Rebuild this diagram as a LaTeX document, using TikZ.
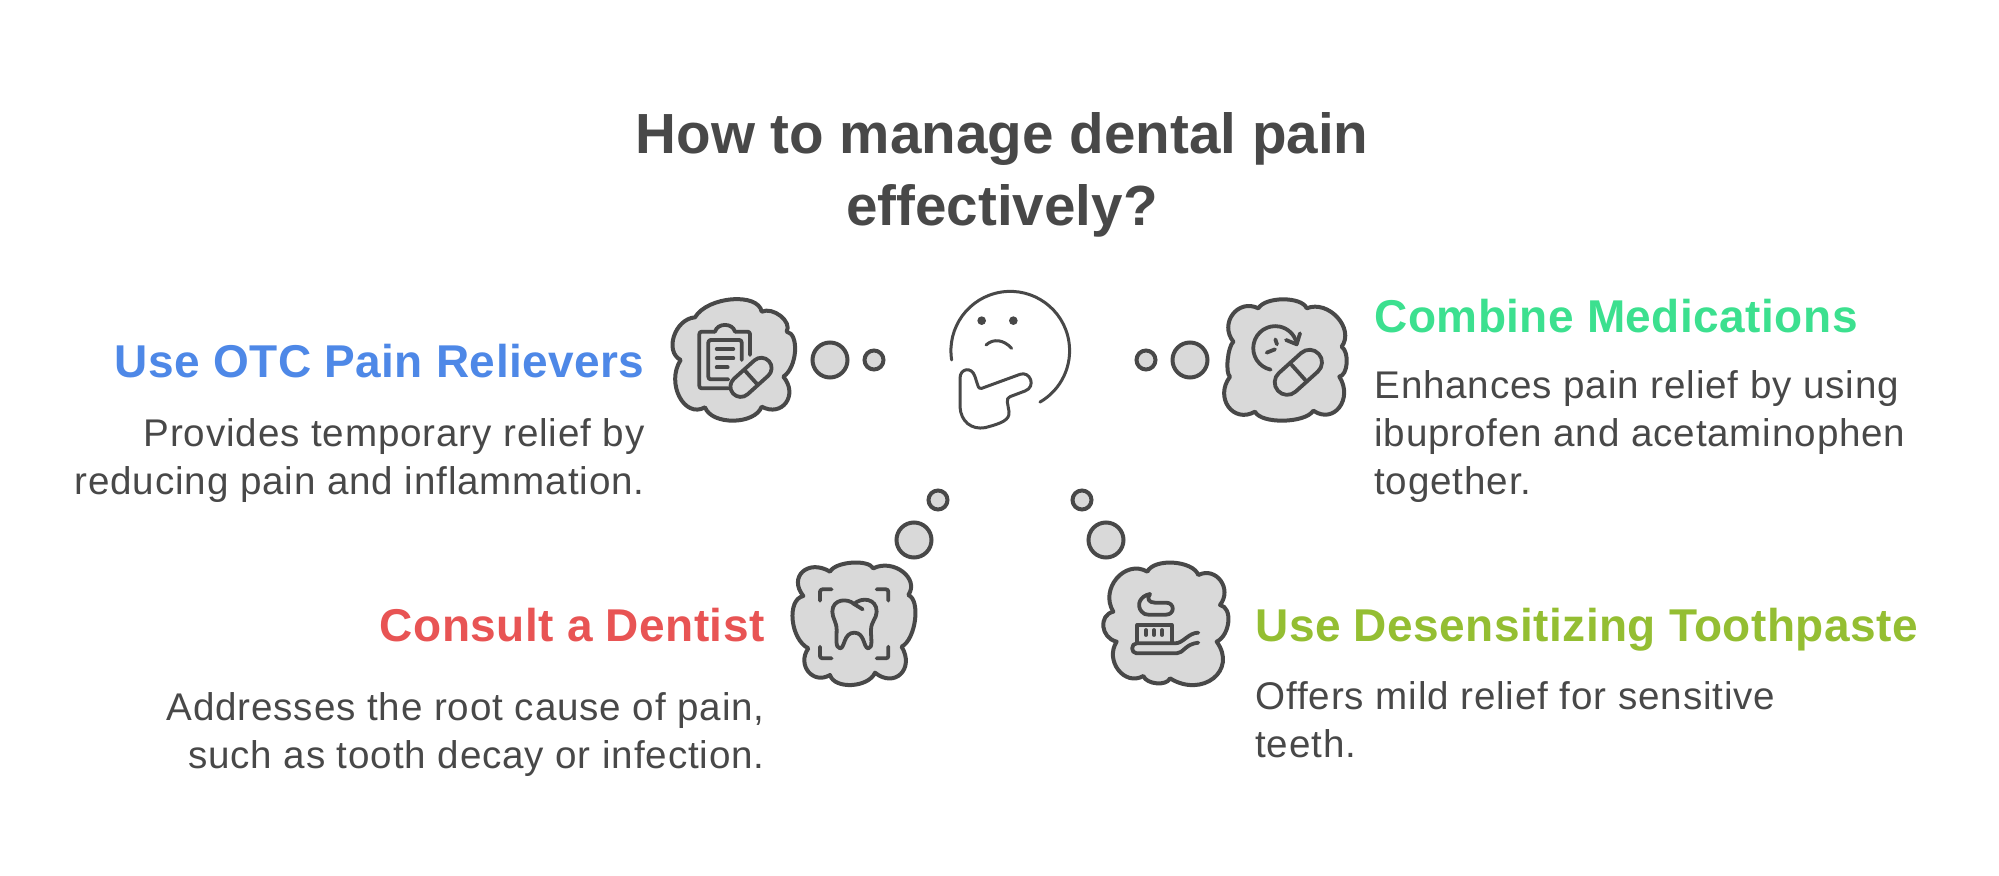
\documentclass[tikz,border=0pt]{standalone}
\usepackage{fontspec}
\setmainfont{Liberation Sans}
\newfontfamily\descfont[LetterSpace=2.2]{Liberation Sans}
\newfontfamily\headfont[LetterSpace=1.0]{Liberation Sans}
\definecolor{ink}{HTML}{484848}
\definecolor{fillg}{HTML}{D9D9D9}
\definecolor{cblue}{HTML}{4E88E7}
\definecolor{cgreen}{HTML}{3CE08F}
\definecolor{cred}{HTML}{E85454}
\definecolor{clime}{HTML}{94BE32}
% hump from (#1,#2) through apex (#3,#4) to (#5,#6)
\newcommand\bp[6]{.. controls ({#1+4/3*(#3-(#1+#5)/2)+0.12*(#5-#1)},{#2+4/3*(#4-(#2+#6)/2)+0.12*(#6-#2)}) and ({#5+4/3*(#3-(#1+#5)/2)-0.12*(#5-#1)},{#6+4/3*(#4-(#2+#6)/2)-0.12*(#6-#2)}) .. (#5,#6)}
\tikzset{
  x=0.5pt,y=-0.5pt,
  cloud/.style={draw=ink,fill=fillg,line width=2pt,line join=round},
  icon/.style={draw=ink,line width=1.9pt,line cap=round,line join=round},
  facel/.style={draw=ink,line width=1.5pt,line cap=round,line join=round},
  bubble/.style={circle,draw=ink,fill=fillg,line width=2pt,inner sep=0pt},
  bigb/.style={bubble,minimum size=17.5pt},
  smallb/.style={bubble,minimum size=9.5pt},
  zoomed/.style={x=0.16667pt,y=-0.16667pt},
  ttl/.style={font=\fontsize{28.3}{36}\selectfont\bfseries,text=ink,align=center,anchor=base},
  head/.style={font=\headfont\fontsize{23}{28}\selectfont\bfseries,inner sep=0pt},
  desc/.style={font=\descfont\fontsize{19.3}{24}\selectfont,text=ink,inner sep=0pt},
}
\newcommand\pill[5]{\begin{scope}[shift={(#1,#2)},rotate=#3]
  \draw[icon,rounded corners={#5/12*1pt}] (-#4/2,-#5/2) rectangle (#4/2,#5/2);
  \draw[icon] (0,-#5/2) -- (0,#5/2);
\end{scope}}
\begin{document}
\begin{tikzpicture}
\useasboundingbox (0,0) rectangle (1999,876);
% title
\node[ttl] (title1) at (1002,154) {How to manage dental pain};
\node[ttl] (title2) at (1002,226) {effectively?};
% left-top cloud
\begin{scope}[shift={(660,280)},zoomed]
\draw[cloud] (105,112) \bp{105}{112}{215}{58}{305}{95} \bp{305}{95}{362}{108}{380}{155} \bp{380}{155}{405}{215}{370}{290} \bp{370}{290}{378}{368}{305}{380} \bp{305}{380}{220}{422}{135}{382} \bp{135}{382}{58}{350}{62}{240} \bp{62}{240}{42}{168}{105}{112} -- cycle;
\draw[icon,rounded corners=1.2pt] (205,325) -- (118,325) -- (118,155) -- (165,155);
\draw[icon] (165,155) .. controls (172,128) and (218,128) .. (225,155);
\draw[icon,rounded corners=1.2pt] (225,155) -- (270,155) -- (270,225);
\draw[icon,rounded corners=1.2pt] (205,298) -- (145,298) -- (145,180) -- (245,180) -- (245,240);
\draw[icon] (170,207) -- (220,207) (170,235) -- (220,235) (170,262) -- (203,262);
\pill{273}{292}{42}{145}{62}
\end{scope}
\node[bigb] (bl1) at (830,360) {};
\node[smallb] (bl2) at (874,360) {};
% right-top cloud
\begin{scope}[shift={(930,280)},zoomed]
\draw[cloud] (985,85) \bp{985}{85}{1060}{58}{1130}{85} \bp{1130}{85}{1222}{112}{1235}{200} \bp{1235}{200}{1250}{250}{1228}{290} \bp{1228}{290}{1228}{382}{1150}{392} \bp{1150}{392}{1060}{422}{975}{395} \bp{975}{395}{895}{380}{900}{290} \bp{900}{290}{893}{240}{910}{185} \bp{910}{185}{908}{103}{985}{85} -- cycle;
\draw[icon] (1022,269) arc[start angle=102,end angle=345,radius=66];
\draw[icon] (1068,180) -- (1100,193) -- (1110,160);
\draw[icon] (1036,178) -- (1041,193) (1010,218) -- (1035,208);
\pill{1105}{277}{42}{165}{75}
% face
\draw[facel] (65,240) arc[start angle=171,end angle=420,radius=178];
\fill[ink] (155,122) circle[radius=13] (250,122) circle[radius=13];
\draw[facel] (168,195) .. controls (190,175) and (220,178) .. (245,205);
\draw[facel] (155,325) -- (270,283) .. controls (300,272) and (320,320) .. (285,333) -- (240,350) .. controls (225,355) and (235,375) .. (237,395) .. controls (240,420) and (215,430) .. (165,443) .. controls (125,450) and (92,425) .. (90,380) -- (90,295) .. controls (90,265) and (125,258) .. (135,290) -- (143,315) .. controls (146,325) and (150,327) .. (155,325) -- cycle;
\end{scope}
\node[smallb] (br2) at (1146,360) {};
\node[bigb] (br1) at (1190,360) {};
% bottom-left cloud
\begin{scope}[shift={(780,470)},zoomed]
\draw[cloud] (150,305) \bp{150}{305}{215}{278}{280}{295} \bp{280}{295}{368}{305}{385}{375} \bp{385}{375}{405}{450}{365}{530} \bp{365}{530}{362}{612}{285}{608} \bp{285}{608}{215}{645}{150}{615} \bp{150}{615}{85}{605}{85}{535} \bp{85}{535}{38}{450}{70}{378} \bp{70}{378}{68}{305}{150}{305} -- cycle;
\draw[icon,rounded corners=1.2pt] (120,392) -- (120,358) -- (155,358);
\draw[icon,rounded corners=1.2pt] (290,358) -- (325,358) -- (325,392);
\draw[icon,rounded corners=1.2pt] (120,530) -- (120,565) -- (155,565);
\draw[icon,rounded corners=1.2pt] (290,565) -- (325,565) -- (325,530);
\draw[icon] (222,402) .. controls (205,385) and (157,385) .. (157,425) .. controls (157,445) and (170,455) .. (170,480) .. controls (170,500) and (165,535) .. (180,535) .. controls (195,535) and (190,488) .. (223,488) .. controls (255,488) and (250,535) .. (265,535) .. controls (280,535) and (272,500) .. (273,480) .. controls (273,455) and (290,445) .. (290,425) .. controls (290,385) and (245,380) .. (222,402) -- (248,418);
\end{scope}
\node[smallb] (dl2) at (938,500) {};
\node[bigb] (dl1) at (914,540) {};
% bottom-right cloud
\begin{scope}[shift={(1060,470)},zoomed]
\draw[cloud] (262,305) \bp{262}{305}{340}{278}{415}{315} \bp{415}{315}{482}{332}{480}{405} \bp{480}{405}{505}{455}{470}{515} \bp{470}{515}{460}{625}{330}{625} \bp{330}{625}{290}{640}{250}{618} \bp{250}{618}{175}{600}{170}{515} \bp{170}{515}{130}{470}{160}{425} \bp{160}{425}{170}{325}{262}{305} -- cycle;
\draw[icon] (232,518) -- (232,465) -- (335,465) -- (335,518);
\draw[icon] (258,480) -- (258,495) (282,480) -- (282,495) (306,480) -- (306,495);
\draw[icon] (415,488) .. controls (385,488) and (370,520) .. (345,520) -- (230,520) .. controls (212,520) and (212,550) .. (230,550) -- (350,550) .. controls (370,550) and (375,522) .. (415,518);
\draw[icon] (270,372) .. controls (240,378) and (228,405) .. (245,425) .. controls (250,432) and (258,434) .. (265,434) -- (318,434) .. controls (345,434) and (345,398) .. (318,398) -- (285,398) .. controls (265,398) and (260,385) .. (270,372);
\end{scope}
\node[smallb] (dr2) at (1082,500) {};
\node[bigb] (dr1) at (1106,540) {};
% labels
\node[head,text=cblue,anchor=base east] (h1) at (645,378) {Use OTC Pain Relievers};
\node[desc,anchor=base east] (d1a) at (645,447) {Provides temporary relief by};
\node[desc,anchor=base east] (d1b) at (645,495) {reducing pain and inflammation.};
\node[head,text=cgreen,anchor=base west] (h2) at (1374,333) {Combine Medications};
\node[desc,anchor=base west] (d2a) at (1374,399) {Enhances pain relief by using};
\node[desc,anchor=base west] (d2b) at (1374,447) {ibuprofen and acetaminophen};
\node[desc,anchor=base west] (d2c) at (1374,495) {together.};
\node[head,text=cred,anchor=base east] (h3) at (765,642) {Consult a Dentist};
\node[desc,anchor=base east] (d3a) at (765,721) {Addresses the root cause of pain,};
\node[desc,anchor=base east] (d3b) at (765,769) {such as tooth decay or infection.};
\node[head,text=clime,anchor=base west] (h4) at (1255,642) {Use Desensitizing Toothpaste};
\node[desc,anchor=base west] (d4a) at (1255,710) {Offers mild relief for sensitive};
\node[desc,anchor=base west] (d4b) at (1255,758) {teeth.};
\end{tikzpicture}
\end{document}
